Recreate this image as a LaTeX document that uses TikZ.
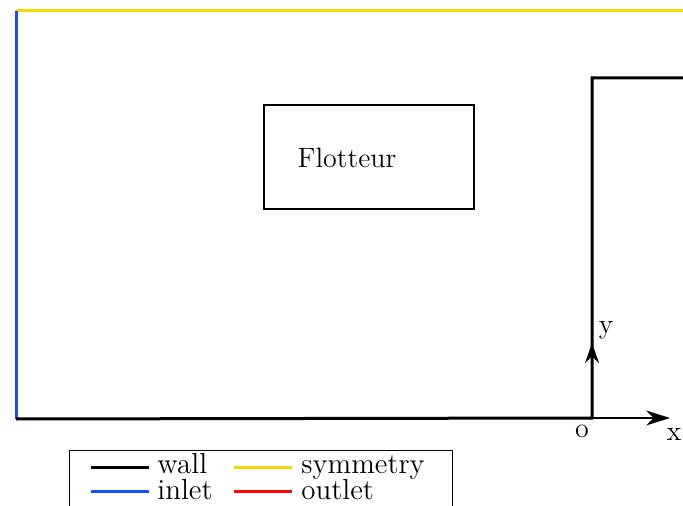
\documentclass[tikz,border=0pt]{standalone}
\usepackage{xcolor}
\usepackage{tikz}
\usetikzlibrary{arrows.meta, positioning}
\definecolor{symyellow}{RGB}{238,220,0}
\definecolor{inletblue}{RGB}{20,80,255}
\definecolor{outletred}{RGB}{255,0,0}

\begin{document}
\begin{tikzpicture}[x=0.5pt, y=-0.5pt,
    wall/.style={line width=1.5pt, black},
    lbl/.style={font=\fontsize{14}{16}\selectfont, inner sep=0pt, text=black},
    leglbl/.style={font=\fontsize{14.5}{16}\selectfont, inner sep=0pt, text=black, anchor=base west},
    axis/.style={line width=0.8pt, -{Stealth[length=10pt, width=7pt]}}]
        \clip (0,0) rectangle (683,506);
        \useasboundingbox (0,0) rectangle (683,506);
        % domain boundaries
        \coordinate (inletTop) at (16,11);
        \coordinate (inletBot) at (16,419);
        \coordinate (symEnd) at (690,11);
        \coordinate (o) at (592,418);
        \coordinate (stepTop) at (592,78);
        \coordinate (stepEnd) at (690,78);
        \draw[line width=1.5pt, symyellow] (inletTop) -- (symEnd);
        \draw[line width=1.5pt, inletblue] (inletTop) -- (inletBot);
        \draw[wall] (inletBot) -- (o) -- (stepTop) -- (stepEnd);
        % floater
        \node[draw, line width=1.2pt, minimum width=105pt, minimum height=52pt, inner sep=0pt] (flot) at (369,157) {};
        \node[lbl] (flotlbl) at (347,158) {Flotteur};
        % axes
        \coordinate (yend) at (592,343);
        \coordinate (xend) at (670,418);
        \draw[axis] (o) -- (yend);
        \draw[line width=0.6pt, -{Stealth[length=12pt, width=7.5pt]}] (o) -- (xend);
        \node[lbl] (ylbl) at (606,330) {y};
        \node[lbl] (xlbl) at (674,434) {x};
        \node[lbl] (olbl) at (582,431) {o};
        % legend
        \node[draw, line width=0.5pt, minimum width=191.5pt, minimum height=40pt, inner sep=0pt] (legend) at (260.5,490) {};
        \node[leglbl] (wallLbl) at (157,473) {wall};
        \node[leglbl] (symLbl) at (301,473) {symmetry};
        \node[leglbl] (inLbl) at (157,499) {inlet};
        \node[leglbl] (outLbl) at (301,499) {outlet};
        \draw[line width=1.5pt, black] (91,467) -- (149,467);
        \draw[line width=1.5pt, symyellow] (234,467) -- (292,467);
        \draw[line width=1.5pt, inletblue] (91,491) -- (149,491);
        \draw[line width=1.5pt, outletred] (234,491) -- (292,491);
\end{tikzpicture}
\end{document}
